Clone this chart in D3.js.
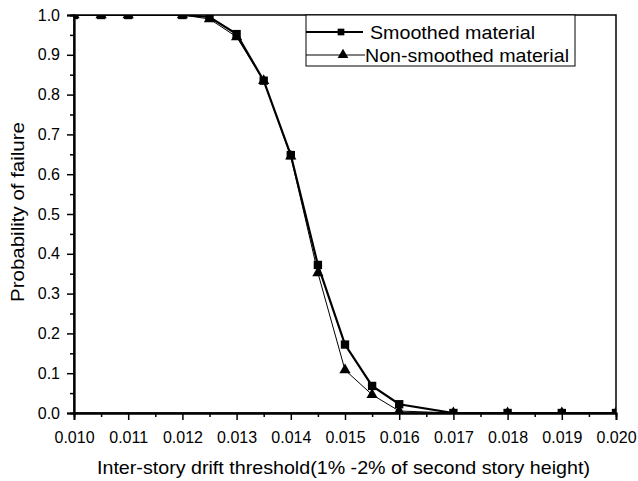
<!DOCTYPE html>
<html><head><meta charset="utf-8">
<script src="https://cdn.jsdelivr.net/npm/d3@7"></script>
<style>body{margin:0;background:#fff}svg{display:block}</style>
</head><body>
<script>
const xValues = [0.010,0.0105,0.011,0.012,0.0125,0.013,0.0135,0.014,0.0145,0.015,0.0155,0.016,0.017,0.018,0.019,0.020];
const smoothed = [1,1,1,1,0.995,0.952,0.835,0.648,0.372,0.172,0.068,0.022,0,0,0,0];
const nonSmoothed = [1,1,1,1,0.99,0.945,0.835,0.645,0.352,0.108,0.046,0.005,0,0,0,0];
const xTicks = [0.010,0.011,0.012,0.013,0.014,0.015,0.016,0.017,0.018,0.019,0.020];
const yTicks = [0,0.1,0.2,0.3,0.4,0.5,0.6,0.7,0.8,0.9,1.0];
const seriesNames = ["Smoothed material","Non-smoothed material"];

const FONT="Liberation Sans, Arial, sans-serif";
const W=638,H=481, L=74,R=616,T=15,B=413;
const svg=d3.select("body").append("svg").attr("width",W).attr("height",H);
const x=d3.scaleLinear().domain([0.010,0.020]).range([L,R]);
const y=d3.scaleLinear().domain([0,1]).range([B,T]);

svg.append("defs").append("clipPath").attr("id","clip").append("rect")
  .attr("x",L).attr("y",T).attr("width",R-L).attr("height",B-T);

svg.append("rect").attr("x",L).attr("y",T).attr("width",R-L).attr("height",B-T)
  .attr("fill","none").attr("stroke","#000").attr("stroke-width",1.5);

const xAx=svg.append("g").attr("transform",`translate(0,${B})`)
  .call(d3.axisBottom(x).tickValues(xTicks).tickFormat(d3.format(".3f")).tickSize(7).tickPadding(12));
const xMinor=svg.append("g").attr("transform",`translate(0,${B})`)
  .call(d3.axisBottom(x).tickValues(xTicks.slice(0,-1).map(v=>v+0.0005)).tickFormat("").tickSize(4));
const yAx=svg.append("g").attr("transform",`translate(${L},0)`)
  .call(d3.axisLeft(y).tickValues(yTicks).tickFormat(d3.format(".1f")).tickSize(7).tickPadding(7));
const yMinor=svg.append("g").attr("transform",`translate(${L},0)`)
  .call(d3.axisLeft(y).tickValues(yTicks.slice(0,-1).map(v=>v+0.05)).tickFormat("").tickSize(4));
[xAx,xMinor,yAx,yMinor].forEach(g=>{
  g.attr("font-family",FONT).attr("font-size",16);
  g.select(".domain").attr("stroke","#000").attr("stroke-width",1.8);
  g.selectAll(".tick line").attr("stroke","#000").attr("stroke-width",1.5);
  g.selectAll("text").attr("fill","#000");
});

const plot=svg.append("g").attr("clip-path","url(#clip)");
const line=d3.line().x((d,i)=>x(xValues[i])).y(d=>y(d));
plot.append("path").datum(nonSmoothed).attr("d",line).attr("fill","none").attr("stroke","#000").attr("stroke-width",1);
plot.append("path").datum(smoothed).attr("d",line).attr("fill","none").attr("stroke","#000").attr("stroke-width",2.2);
const tri=d3.symbol().type(d3.symbolTriangle).size(55);
const sq=d3.symbol().type(d3.symbolSquare).size(70);
plot.selectAll(".tri").data(nonSmoothed).join("path").attr("d",tri)
  .attr("transform",(d,i)=>`translate(${x(xValues[i])},${y(d)})`).attr("fill","#000");
plot.selectAll(".sq").data(smoothed).join("path").attr("d",sq)
  .attr("transform",(d,i)=>`translate(${x(xValues[i])},${y(d)})`).attr("fill","#000");

const lg=svg.append("g").attr("font-family",FONT);
lg.append("rect").attr("x",306).attr("y",T).attr("width",269).attr("height",51)
  .attr("fill","#fff").attr("stroke","#000").attr("stroke-width",1);
const rows=[{y:32,w:2.2,x2:363,tx:370,tw:165},{y:55,w:1,x2:365,tx:365,tw:204}];
rows.forEach((r,i)=>{
  lg.append("line").attr("x1",306).attr("x2",r.x2).attr("y1",r.y).attr("y2",r.y).attr("stroke","#000").attr("stroke-width",r.w);
  lg.append("path").attr("d",d3.symbol().type(i?d3.symbolTriangle:d3.symbolSquare).size(i?50:45)()).attr("transform",`translate(${i?343:341},${r.y})`);
  lg.append("text").attr("x",r.tx).attr("y",r.y+7).attr("font-size",19).attr("textLength",r.tw).attr("lengthAdjust","spacingAndGlyphs").text(seriesNames[i]);
});

svg.append("text").attr("x",97).attr("y",474).attr("font-family",FONT).attr("font-size",19)
  .attr("textLength",493).attr("lengthAdjust","spacingAndGlyphs")
  .text("Inter-story drift threshold(1% -2% of second story height)");
svg.append("text").attr("transform",`translate(24,302) rotate(-90)`).attr("font-family",FONT).attr("font-size",19)
  .attr("textLength",180).attr("lengthAdjust","spacingAndGlyphs")
  .text("Probability of failure");
</script>
</body></html>
